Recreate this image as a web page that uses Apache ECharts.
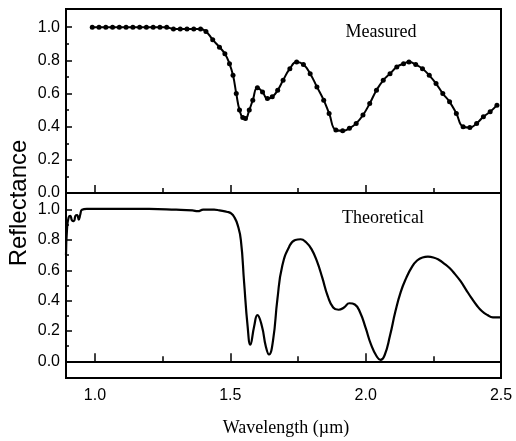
<!DOCTYPE html>
<html>
<head>
<meta charset="utf-8">
<script src="https://cdn.jsdelivr.net/npm/echarts@6/dist/echarts.min.js"></script>
<style>
  html, body { margin: 0; padding: 0; background: #fff; }
  #main { width: 516px; height: 441px; }
</style>
</head>
<body>
<div id="main"></div>
<script>
// measured reflectance (dots)
var measuredWl = [0.99, 1.015, 1.04, 1.065, 1.09, 1.115, 1.14, 1.165, 1.19, 1.215, 1.24, 1.265, 1.29, 1.315, 1.34, 1.365, 1.39,
  1.41, 1.435, 1.46, 1.48, 1.497, 1.51, 1.522, 1.534, 1.546, 1.556, 1.57, 1.583, 1.6, 1.619, 1.637, 1.655, 1.675, 1.695,
  1.72, 1.745, 1.77, 1.795, 1.82, 1.845, 1.865, 1.89, 1.915, 1.94, 1.965, 1.99, 2.015, 2.04, 2.065, 2.09, 2.115, 2.14,
  2.16, 2.185, 2.21, 2.235, 2.26, 2.285, 2.31, 2.335, 2.36, 2.385, 2.41, 2.435, 2.46, 2.485];
var measuredR = [1.0, 1.0, 1.0, 1.0, 1.0, 1.0, 1.0, 1.0, 1.0, 1.0, 1.0, 1.0, 0.99, 0.99, 0.99, 0.99, 0.99,
  0.975, 0.925, 0.88, 0.84, 0.78, 0.71, 0.60, 0.50, 0.455, 0.45, 0.50, 0.56, 0.635, 0.61, 0.57, 0.58, 0.62, 0.68,
  0.75, 0.79, 0.775, 0.72, 0.64, 0.56, 0.48, 0.38, 0.375, 0.39, 0.42, 0.47, 0.54, 0.62, 0.68, 0.72, 0.76, 0.78,
  0.79, 0.775, 0.75, 0.71, 0.66, 0.60, 0.55, 0.48, 0.40, 0.395, 0.42, 0.46, 0.49, 0.53];

// theoretical reflectance (line)
var theoWl = [0.893, 0.897, 0.903, 0.909, 0.915, 0.922, 0.928, 0.934, 0.94, 0.946, 0.952, 0.97, 1.0, 1.1, 1.2, 1.3,
  1.36, 1.38, 1.40, 1.44, 1.46, 1.49, 1.503, 1.515, 1.527, 1.539, 1.551, 1.564, 1.574, 1.588, 1.600, 1.617, 1.631,
  1.643, 1.658, 1.674, 1.692,
  1.72, 1.74, 1.76, 1.78, 1.80, 1.82, 1.84, 1.86, 1.88, 1.90, 1.92, 1.94, 1.96, 1.98, 2.00, 2.02, 2.04, 2.055,
  2.07, 2.09, 2.11, 2.13, 2.15, 2.17, 2.19, 2.21, 2.23, 2.25, 2.27, 2.29, 2.31, 2.33, 2.35, 2.37, 2.39, 2.41,
  2.43, 2.45, 2.47, 2.5];
var theoR = [0.70, 0.88, 0.95, 0.96, 0.93, 0.925, 0.96, 0.965, 0.935, 0.97, 1.0, 1.005, 1.005, 1.005, 1.005, 1.0,
  0.995, 0.99, 1.0, 1.0, 0.995, 0.985, 0.975, 0.95, 0.90, 0.80, 0.52, 0.23, 0.11, 0.23, 0.305, 0.23, 0.10,
  0.045, 0.14, 0.41, 0.63,
  0.765, 0.80, 0.805, 0.785, 0.74, 0.66, 0.55, 0.43, 0.355, 0.34, 0.355, 0.383, 0.375, 0.32, 0.22, 0.11, 0.035, 0.01,
  0.04, 0.17, 0.33, 0.46, 0.55, 0.62, 0.665, 0.685, 0.69, 0.685, 0.67, 0.645, 0.615, 0.575, 0.53, 0.475, 0.42, 0.37,
  0.33, 0.305, 0.29, 0.29];

var xMajor = [1.0, 1.5, 2.0, 2.5];
var xMinor = [1.25, 1.75, 2.25];
var yMajor = [0.0, 0.2, 0.4, 0.6, 0.8, 1.0];
var yMinor = [0.1, 0.3, 0.5, 0.7, 0.9];

var labelFont = { fontFamily: 'Liberation Sans', fontSize: 16, color: '#000' };

function xAx(grid, ticks, len, labels) {
  return {
    type: 'value', gridIndex: grid, min: 0.893, max: 2.5, position: 'bottom',
    axisLine: { show: true, lineStyle: { color: '#000', width: 2 } },
    axisTick: { show: true, inside: true, length: len, customValues: ticks, lineStyle: { color: '#000', width: 1.5 } },
    axisLabel: labels ? Object.assign({ show: true, margin: 10, customValues: ticks, formatter: function (v) { return v.toFixed(1); } }, labelFont) : { show: false },
    splitLine: { show: false }
  };
}
function yAx(grid, min, ticks, len, labels) {
  return {
    type: 'value', gridIndex: grid, min: min, max: 1.11, position: 'left',
    axisLine: { show: true, lineStyle: { color: '#000', width: 2 } },
    axisTick: { show: true, inside: true, length: len, customValues: ticks, lineStyle: { color: '#000', width: 1.5 } },
    axisLabel: labels ? Object.assign({ show: true, margin: 6, customValues: ticks, formatter: function (v) { return v.toFixed(1); } }, labelFont) : { show: false },
    splitLine: { show: false }
  };
}

var myChart = echarts.init(document.getElementById('main'));
myChart.setOption({
  animation: false,
  backgroundColor: '#fff',
  grid: [
    { left: 66, right: 15, top: 9, height: 184, show: true, borderColor: '#000', borderWidth: 2 },
    { left: 66, right: 15, top: 193, height: 185, show: true, borderColor: '#000', borderWidth: 2 }
  ],
  xAxis: [
    xAx(0, xMajor, 8, false),
    xAx(0, xMinor, 5, false),
    xAx(1, xMajor, 8, true),
    xAx(1, xMinor, 5, false)
  ],
  yAxis: [
    yAx(0, 0, yMajor, 6, true),
    yAx(0, 0, yMinor, 3, false),
    yAx(1, -0.11, yMajor, 6, true),
    yAx(1, -0.11, yMinor, 3, false)
  ],
  graphic: [
    { type: 'text', x: 19, y: 203, rotation: Math.PI / 2,
      style: { text: 'Reflectance', font: '24px "Liberation Sans"', fill: '#000', align: 'center', verticalAlign: 'middle', textAlign: 'center', textVerticalAlign: 'middle' } },
    { type: 'text', x: 286, y: 428,
      style: { text: 'Wavelength (µm)', font: '18px "Liberation Serif"', fill: '#000', align: 'center', verticalAlign: 'middle', textAlign: 'center', textVerticalAlign: 'middle' } },
    { type: 'text', x: 381, y: 32,
      style: { text: 'Measured', font: '18px "Liberation Serif"', fill: '#000', align: 'center', verticalAlign: 'middle', textAlign: 'center', textVerticalAlign: 'middle' } },
    { type: 'text', x: 383, y: 218,
      style: { text: 'Theoretical', font: '18px "Liberation Serif"', fill: '#000', align: 'center', verticalAlign: 'middle', textAlign: 'center', textVerticalAlign: 'middle' } }
  ],
  series: [
    {
      name: 'Measured', type: 'line', xAxisIndex: 0, yAxisIndex: 0,
      data: measuredWl.map(function (x, i) { return [x, measuredR[i]]; }),
      smooth: 0.5,
      symbol: 'circle', symbolSize: 5, showSymbol: true,
      itemStyle: { color: '#000' },
      lineStyle: { color: '#000', width: 2 }
    },
    {
      name: 'Theoretical', type: 'line', xAxisIndex: 2, yAxisIndex: 2,
      data: theoWl.map(function (x, i) { return [x, theoR[i]]; }),
      smooth: 0.5,
      showSymbol: false,
      lineStyle: { color: '#000', width: 2.2 }
    }
  ]
});
</script>
</body>
</html>
